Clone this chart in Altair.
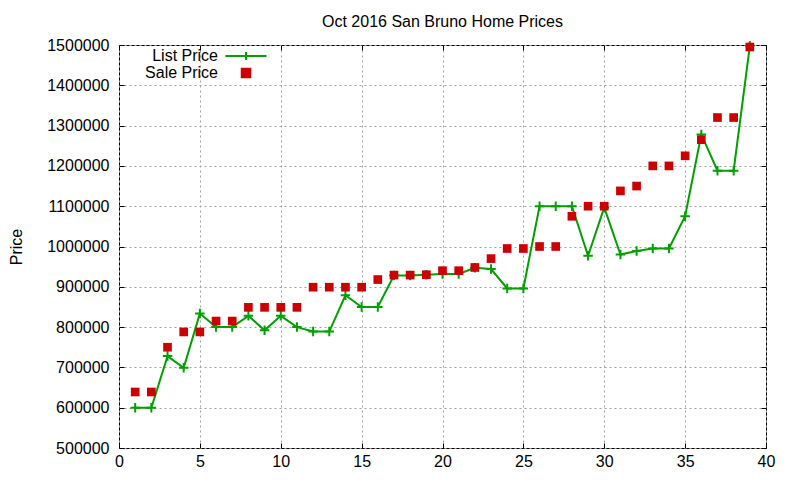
"""Oct 2016 San Bruno home prices, gnuplot style."""

import pandas as pd
import altair as alt

house = list(range(1, 40))
list_price = [
    600000, 600000, 728000, 699000, 834000, 800000, 800000, 828000, 792000, 828000,
    800000, 789000, 789000, 879000, 850000, 850000, 928000, 928000, 930000, 932000,
    932000, 947000, 944000, 896000, 896000, 1100000, 1100000, 1100000, 977000, 1097000,
    980000, 989000, 995000, 995000, 1075000, 1278000, 1188000, 1188000, 1498000,
]
sale_price = [
    639000, 639000, 750000, 788000, 788000, 815000, 815000, 849000, 849000, 849000,
    849000, 899000, 899000, 899000, 899000, 918000, 929000, 929000, 930000, 940000,
    940000, 948000, 970000, 995000, 995000, 1000000, 1000000, 1075000, 1100000, 1100000,
    1138000, 1150000, 1200000, 1200000, 1225000, 1265000, 1320000, 1320000, 1495000,
]
series = ["List Price", "Sale Price"]
x_ticks = list(range(0, 41, 5))
y_ticks = list(range(500000, 1500001, 100000))

GREEN = "#00a000"
RED = "#cc0000"
FONT = "Liberation Sans"
W, H = 647, 403

df = pd.DataFrame({"house": house, "list": list_price, "sale": sale_price})
df_legend = pd.DataFrame({"series": series, "house": [0, 0], "price": [500000, 500000]})

x_scale = alt.Scale(domain=[0, 40], nice=False)
y_scale = alt.Scale(domain=[500000, 1500000], nice=False, zero=False)

grid_axis = dict(grid=True, gridDash=[2, 3], gridColor="#a0a0a0", tickSize=0,
                 domain=False, labelFlush=False)

base = alt.Chart(df)

line = base.mark_line(color=GREEN, strokeWidth=2).encode(
    alt.X("house:Q", scale=x_scale,
          axis=alt.Axis(values=x_ticks, labelPadding=5, title=None, **grid_axis)),
    alt.Y("list:Q", scale=y_scale,
          axis=alt.Axis(values=y_ticks, format="d", labelPadding=10, title="Price",
                        titleX=-103, titleY=H / 2, titleAngle=270,
                        titleBaseline="middle", titleAlign="center", **grid_axis)),
)

list_pts = base.mark_point(
    shape="M-1,0L1,0M0,-1L0,1", size=90, strokeWidth=2, color=GREEN, filled=False, opacity=1
).encode(
    alt.X("house:Q", scale=x_scale, axis=None),
    alt.Y("list:Q", scale=y_scale, axis=None),
)

sale_pts = base.mark_square(size=75, color=RED, opacity=1).encode(
    alt.X("house:Q", scale=x_scale, axis=None),
    alt.Y("sale:Q", scale=y_scale, axis=None),
)


def tick_axis(orient, values):
    return alt.Axis(orient=orient, offset=-5, tickSize=5, labels=False, domain=False,
                    grid=False, values=values, title=None, tickColor="black")


# empty layers: inward ticks on all four sides, and the key
ticks_in = alt.Chart(df_legend).transform_filter("false").mark_point(
    filled=False, strokeWidth=2, opacity=1
).encode(
    alt.X("house:Q", scale=x_scale, axis=tick_axis("bottom", x_ticks)),
    alt.Y("price:Q", scale=y_scale, axis=tick_axis("left", y_ticks)),
    color=alt.Color("series:N", scale=alt.Scale(domain=series, range=[GREEN, RED]), title=None),
    fill=alt.Fill("series:N", scale=alt.Scale(domain=series, range=[GREEN, RED]), title=None),
    shape=alt.Shape("series:N", title=None, scale=alt.Scale(
        domain=series,
        range=["M-4.1,0L4.1,0M0,-0.8L0,0.8", "M-0.85,-0.85L0.85,-0.85L0.85,0.85L-0.85,0.85Z"],
    )),
)

ticks_out = alt.Chart(df_legend).transform_filter("false").mark_point().encode(
    alt.X("house:Q", scale=x_scale, axis=tick_axis("top", x_ticks)),
    alt.Y("price:Q", scale=y_scale, axis=tick_axis("right", y_ticks)),
)

chart = (
    alt.layer(line, list_pts, sale_pts, ticks_in, ticks_out)
    .resolve_axis(x="independent", y="independent")
    .properties(
        width=W,
        height=H,
        title=alt.TitleParams("Oct 2016 San Bruno Home Prices", font=FONT, fontSize=16,
                              fontWeight="normal", color="black", offset=7),
        padding={"left": 111, "top": 37, "right": 26, "bottom": 20},
        autosize=alt.AutoSizeParams(type="none"),
    )
    .configure_view(stroke="black", strokeWidth=1)
    .configure_axis(labelFont=FONT, labelFontSize=16, labelColor="black",
                    titleFont=FONT, titleFontSize=16, titleFontWeight="normal",
                    titleColor="black")
    .configure_legend(orient="none", legendX=119, legendY=3, padding=0,
                      labelFont=FONT, labelFontSize=16, labelColor="black",
                      labelAlign="right", labelOffset={"expr": "-36"}, symbolSize=100,
                      symbolStrokeWidth=2, rowPadding=0)
)

chart.save("out.html", embed_options={"renderer": "svg", "actions": False})
